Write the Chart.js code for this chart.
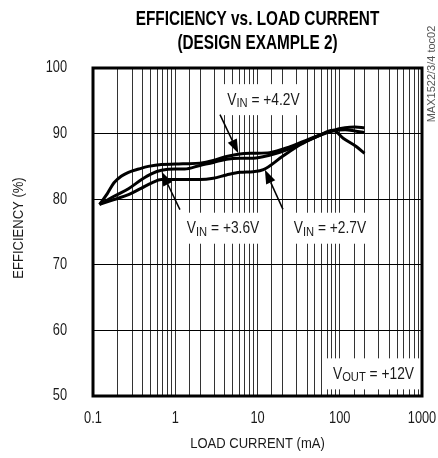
<!DOCTYPE html>
<html lang="en">
<head>
  <meta charset="UTF-8">
  <title>Efficiency vs. Load Current</title>
  <script src="https://cdn.jsdelivr.net/npm/chart.js"></script>
  <style>
    body {
      margin: 0;
      background-color: #ffffff;
    }
    #effChart {
      display: block;
    }
  </style>
</head>
<body>
  <canvas id="effChart" width="438" height="458"></canvas>

  <script>
    // load current (mA) and efficiency (%)
    const loadVin42 = [0.12, 0.15, 0.18, 0.22, 0.27, 0.36, 0.47, 0.68, 1.0, 1.3, 2.0, 2.9, 4.2, 6.1, 8.9, 14, 25, 43, 83, 116, 153, 200];
    const effVin42 = [79.2, 80.9, 82.5, 83.5, 84.1, 84.6, 85.0, 85.3, 85.35, 85.4, 85.5, 85.9, 86.5, 86.9, 87.0, 87.1, 88.0, 89.2, 90.5, 90.9, 91.0, 90.9];

    const loadVin36 = [0.12, 0.18, 0.27, 0.39, 0.52, 0.68, 1.0, 1.3, 2.0, 2.9, 4.2, 6.1, 8.9, 14, 25, 43, 83, 116, 153, 200];
    const effVin36 = [79.2, 80.45, 81.6, 83.0, 83.9, 84.4, 84.6, 84.6, 85.15, 85.6, 86.1, 86.25, 86.25, 86.7, 87.7, 89.1, 90.4, 90.6, 90.4, 90.15];

    const loadVin27 = [0.12, 0.18, 0.27, 0.39, 0.52, 0.68, 0.9, 1.3, 2.0, 2.9, 4.2, 6.1, 8.9, 11.8, 20, 33, 52, 83, 110, 160, 200];
    const effVin27 = [79.2, 79.95, 80.7, 81.7, 82.5, 83.0, 83.0, 83.0, 83.0, 83.2, 83.7, 84.1, 84.2, 84.5, 86.5, 88.3, 89.5, 90.5, 89.3, 88.0, 87.0];

    const xMin = 0.1, xMax = 1000;
    const yMin = 50, yMax = 100, yStep = 10;
    const decadeLabels = ['0.1', '1', '10', '100', '1000'];

    const titleLines = ['EFFICIENCY vs. LOAD CURRENT', '(DESIGN EXAMPLE 2)'];
    const xTitle = 'LOAD CURRENT (mA)';
    const yTitle = 'EFFICIENCY (%)';
    const sideNote = 'MAX1522/3/4 toc02';

    // text boxes on the plot, anchored in data units (mA, %)
    const notes = [
      { x: 11.8, y: 95.1, main: 'V', sub: 'IN', rest: ' = +4.2V' },
      { x: 3.81, y: 75.5, main: 'V', sub: 'IN', rest: ' = +3.6V' },
      { x: 76, y: 75.5, main: 'V', sub: 'IN', rest: ' = +2.7V' },
      { x: 257, y: 53.3, main: 'V', sub: 'OUT', rest: ' = +12V' }
    ];
    const arrows = [
      { from: [3.5, 92.9], to: [5.84, 87.0] },
      { from: [1.14, 78.4], to: [0.684, 84.2] },
      { from: [20.4, 78.45], to: [12.3, 84.5] }
    ];

    const FONT = "'Liberation Sans', Arial, sans-serif";
    const INK = '#1a1a1a';

    function toPoints(xs, ys) {
      return xs.map((x, i) => ({ x: x, y: ys[i] }));
    }

    // condensed text: the original uses a narrow face, so squeeze Liberation Sans
    function drawText(ctx, str, x, y, o) {
      ctx.save();
      ctx.translate(x, y);
      if (o.rot) ctx.rotate(o.rot);
      ctx.scale(o.sx || 0.8, 1);
      ctx.font = (o.bold ? 'bold ' : '') + o.size + 'px ' + FONT;
      ctx.textAlign = o.align || 'center';
      ctx.textBaseline = 'middle';
      ctx.fillStyle = o.color || INK;
      ctx.fillText(str, 0, 0);
      ctx.restore();
    }

    function textWidth(ctx, str, size, sx) {
      ctx.font = size + 'px ' + FONT;
      return ctx.measureText(str).width * sx;
    }

    const annotate = {
      id: 'annotate',
      beforeDatasetsDraw(chart) {
        const ctx = chart.ctx;
        const xs = chart.scales.x, ys = chart.scales.y;
        const sx = 0.86;
        notes.forEach(n => {
          const cx = xs.getPixelForValue(n.x);
          const cy = ys.getPixelForValue(n.y);
          const wMain = textWidth(ctx, n.main, 16, sx);
          const wSub = textWidth(ctx, n.sub, 13, sx);
          const wRest = textWidth(ctx, n.rest, 16, sx);
          const total = wMain + wSub + wRest;
          const left = cx - total / 2;
          ctx.fillStyle = '#ffffff';
          ctx.fillRect(left - 7, cy - 16, total + 13, 31);
          drawText(ctx, n.main, left, cy, { size: 16, sx: sx, align: 'left' });
          drawText(ctx, n.sub, left + wMain, cy + 3.5, { size: 13, sx: sx, align: 'left' });
          drawText(ctx, n.rest, left + wMain + wSub, cy, { size: 16, sx: sx, align: 'left' });
        });
      },
      afterDatasetsDraw(chart) {
        const ctx = chart.ctx;
        const a = chart.chartArea;
        const xs = chart.scales.x, ys = chart.scales.y;
        ctx.save();

        // arrows
        arrows.forEach(ar => {
          const x1 = xs.getPixelForValue(ar.from[0]), y1 = ys.getPixelForValue(ar.from[1]);
          const x2 = xs.getPixelForValue(ar.to[0]), y2 = ys.getPixelForValue(ar.to[1]);
          const ang = Math.atan2(y2 - y1, x2 - x1);
          const len = 14, half = 5;
          const bx = x2 - len * Math.cos(ang), by = y2 - len * Math.sin(ang);
          ctx.strokeStyle = '#000';
          ctx.lineWidth = 1.5;
          ctx.beginPath();
          ctx.moveTo(x1, y1);
          ctx.lineTo(bx, by);
          ctx.stroke();
          ctx.fillStyle = '#000';
          ctx.beginPath();
          ctx.moveTo(x2, y2);
          ctx.lineTo(bx + half * Math.sin(ang), by - half * Math.cos(ang));
          ctx.lineTo(bx - half * Math.sin(ang), by + half * Math.cos(ang));
          ctx.closePath();
          ctx.fill();
        });

        // frame
        ctx.strokeStyle = '#000';
        ctx.lineWidth = 3;
        ctx.strokeRect(a.left, a.top, a.right - a.left, a.bottom - a.top);
        ctx.restore();

        // tick labels, placed by the scales
        xs.ticks.forEach(t => {
          const lbl = String(t.value);
          if (decadeLabels.indexOf(lbl) < 0) return;
          drawText(ctx, lbl, xs.getPixelForValue(t.value), a.bottom + 23, { size: 16 });
        });
        ys.ticks.forEach(t => {
          drawText(ctx, String(t.value), a.left - 26, ys.getPixelForValue(t.value), { size: 16, align: 'right' });
        });

        // axis titles
        const mid = (a.left + a.right) / 2;
        drawText(ctx, xTitle, mid, a.bottom + 48, { size: 15.5, sx: 0.84 });
        drawText(ctx, yTitle, 19, (a.top + a.bottom) / 2 - 4, { size: 15.5, sx: 0.84, rot: -Math.PI / 2 });

        // title
        drawText(ctx, titleLines[0], mid, 19, { size: 21, sx: 0.73, bold: true, color: '#000' });
        drawText(ctx, titleLines[1], mid, 43, { size: 21, sx: 0.73, bold: true, color: '#000' });

        // side reference
        drawText(ctx, sideNote, a.right + 10, 74, { size: 11, sx: 1, rot: -Math.PI / 2, color: '#555' });
      }
    };

    const lineStyle = {
      borderColor: '#000',
      borderWidth: 3,
      pointRadius: 0,
      fill: false,
      cubicInterpolationMode: 'monotone'
    };

    const ctx = document.getElementById('effChart').getContext('2d');
    new Chart(ctx, {
      type: 'line',
      data: {
        datasets: [
          Object.assign({ label: 'VIN = +4.2V', data: toPoints(loadVin42, effVin42) }, lineStyle),
          Object.assign({ label: 'VIN = +3.6V', data: toPoints(loadVin36, effVin36) }, lineStyle),
          Object.assign({ label: 'VIN = +2.7V', data: toPoints(loadVin27, effVin27) }, lineStyle)
        ]
      },
      options: {
        responsive: false,
        animation: false,
        layout: {
          padding: { top: 68, right: 16, bottom: 0, left: 0 }
        },
        plugins: {
          legend: { display: false },
          tooltip: { enabled: false }
        },
        scales: {
          x: {
            type: 'logarithmic',
            min: xMin,
            max: xMax,
            afterFit: function(scale) {
              scale.height = 62;
              scale.paddingLeft = 0;
              scale.paddingRight = 0;
            },
            border: { display: false },
            grid: { color: '#333', lineWidth: 1, drawTicks: false },
            ticks: { display: false, autoSkip: false }
          },
          y: {
            min: yMin,
            max: yMax,
            afterFit: function(scale) { scale.width = 93; },
            border: { display: false },
            grid: { color: '#000', lineWidth: 1, drawTicks: false },
            ticks: { display: false, stepSize: yStep }
          }
        }
      },
      plugins: [annotate]
    });
  </script>
</body>
</html>
